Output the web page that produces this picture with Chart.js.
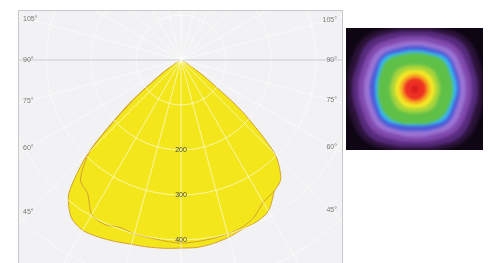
<!DOCTYPE html>
<html>
<head>
<meta charset="utf-8">
<script src="https://cdn.jsdelivr.net/npm/chart.js@4.4.1/dist/chart.umd.min.js"></script>
<style>
    html, body { margin: 0; padding: 0; background: #fff; overflow: hidden; }
    body { width: 489px; height: 263px; position: relative; font-family: "Liberation Sans", Arial, sans-serif; }
    #polarFrame { position: absolute; left: 18px; top: 10px; width: 323px; height: 270px; background: #f2f2f4; border: 1px solid #c9c9cc; overflow: hidden; }
    #polarChart { position: absolute; left: -108px; top: -221px; }
    #mapFrame { position: absolute; left: 346px; top: 28px; width: 137px; height: 122px; background: #0f0614; overflow: hidden; }
    #mapChart { position: absolute; left: -21px; top: -29px; filter: blur(1.8px); }
</style>
</head>
<body>
<div id="polarFrame"><canvas id="polarChart" width="540" height="540"></canvas></div>
<div id="mapFrame"><canvas id="mapChart" width="180" height="180"></canvas></div>
<script>
// gamma angles (deg from nadir), 5 deg steps
const gammaDeg = [0, 5, 10, 15, 20, 25, 30, 35, 40, 45, 50, 55, 60, 65, 70, 75, 80, 85, 90];

// intensity curves (cd/klm), left and right halves of each plane
const planeA_left  = [407, 404, 401, 400, 396, 403, 397, 362, 348, 285, 140, 45, 12, 4, 1, 0, 0, 0, 0];
const planeA_right = [407, 405, 403, 400, 396, 385, 365, 358, 345, 295, 175, 60, 18, 5, 2, 0, 0, 0, 0];
const planeB_left  = [418, 420, 422, 424, 429, 434, 437, 426, 388, 290, 150, 50, 15, 5, 2, 0, 0, 0, 0];
const planeB_right = [418, 418, 414, 408, 400, 397, 388, 360, 330, 250, 120, 40, 12, 4, 1, 0, 0, 0, 0];

const ringTicks = [200, 300, 400];
const angleTicks = [105, 90, 75, 60, 45];

// false-colour map: iso rings, 16 directions clockwise from top
const mapRings = [
    { color: '#d81c1c', r: [4, 4, 4, 4, 4, 4, 4, 4, 4, 4, 4, 4, 4, 4, 4, 4] },
    { color: '#ee3024', r: [11, 11, 11, 11, 11, 11, 11, 11, 11, 11, 11, 11, 11, 11, 11, 11] },
    { color: '#f6a020', r: [15, 15, 15, 15, 15, 15, 15, 15, 15, 15, 15, 15, 15, 15, 15, 15] },
    { color: '#f4e826', r: [19, 20, 20, 20, 20, 20, 20, 20, 19, 20, 20, 20, 20, 20, 20, 20] },
    { color: '#a8d43c', r: [24, 25, 26, 25, 25, 25, 26, 25, 24, 25, 26, 25, 25, 25, 26, 25] },
    { color: '#5fc048', r: [36, 37, 40, 38, 38, 38, 39, 37, 35, 37, 39, 38, 37, 38, 40, 37] },
    { color: '#36b8f2', r: [39, 40, 44, 42, 42, 41, 43, 39, 37, 39, 43, 41, 40, 41, 44, 40] },
    { color: '#4a58d6', r: [43, 44, 47, 45, 45, 45, 47, 44, 42, 44, 47, 45, 45, 45, 47, 44] },
    { color: '#9b74d4', r: [48, 49, 53, 51, 51, 51, 53, 49, 48, 49, 53, 51, 51, 51, 53, 49] },
    { color: '#8048ac', r: [53, 55, 59, 57, 57, 57, 59, 55, 53, 55, 59, 57, 57, 57, 59, 55] },
    { color: '#562a7c', r: [58, 61, 66, 63, 63, 63, 66, 61, 58, 61, 66, 63, 63, 63, 66, 61] },
    { color: '#2a1238', r: [63, 66, 72, 70, 68, 70, 72, 66, 63, 66, 72, 70, 68, 70, 72, 66] }
];

// radar goes clockwise from the nadir: first quarter = left half, last quarter = right half
function toFullCircle(left, right) {
    const out = [];
    for (let i = 0; i < 72; i++) {
        const a = i * 5;
        if (a <= 90) out.push(left[gammaDeg.indexOf(a)]);
        else if (a >= 270) out.push(right[gammaDeg.indexOf(360 - a)]);
        else out.push(0);
    }
    return out;
}

const circleLabels = [];
for (let i = 0; i < 72; i++) circleLabels.push(String(i * 5));

const YELLOW = 'rgb(243,231,28)';
const EDGE = '#d4a032';

const polarLabelsPlugin = {
    id: 'polarLabels',
    afterDraw(chart) {
        const scale = chart.scales.r;
        const ctx = chart.ctx;
        ctx.save();
        ctx.font = '7px "Liberation Sans", Arial, sans-serif';
        ctx.fillStyle = '#4a4a3a';
        ctx.textBaseline = 'middle';
        ctx.textAlign = 'center';
        ringTicks.forEach(v => {
            const p = scale.getPointPositionForValue(0, v);
            ctx.fillText(String(v), p.x, p.y);
        });
        ctx.fillStyle = '#777';
        angleTicks.forEach(g => {
            const sides = [[g / 5, -152, 'left', -158], [72 - g / 5, 150, 'right', 156]];
            sides.forEach(([idx, dxEdge, align, xOff]) => {
                const p = scale.getPointPosition(idx, 100);
                const dx = p.x - scale.xCenter;
                const dy = p.y - scale.yCenter;
                const y = scale.yCenter + dy * (dxEdge / dx);
                ctx.textAlign = align;
                ctx.fillText(g + '°', scale.xCenter + xOff, y);
            });
        });
        ctx.restore();
    }
};

new Chart(document.getElementById('polarChart'), {
    type: 'radar',
    data: {
        labels: circleLabels,
        datasets: [
            {
                data: toFullCircle(planeA_left, planeA_right),
                backgroundColor: YELLOW,
                borderColor: EDGE,
                borderWidth: 1,
                pointRadius: 0,
                tension: 0.25,
                fill: true,
                segment: {
                    borderColor: function(c) {
                        const i = c.p0DataIndex;
                        if (i >= 0 && i < 9) return '#cc5a2c';
                        if (i >= 65) return 'rgba(214,160,50,0.45)';
                        return EDGE;
                    }
                }
            },
            {
                data: toFullCircle(planeB_left, planeB_right),
                backgroundColor: YELLOW,
                borderColor: EDGE,
                borderWidth: 1,
                pointRadius: 0,
                tension: 0.25,
                fill: true
            }
        ]
    },
    options: {
        responsive: false,
        animation: false,
        events: [],
        layout: { padding: 0 },
        plugins: { legend: { display: false }, tooltip: { enabled: false } },
        scales: {
            r: {
                min: 0,
                max: 600,
                startAngle: 180,
                grid: {
                    circular: true,
                    color: 'rgba(255,255,255,0.6)',
                    lineWidth: 1,
                    z: 1
                },
                angleLines: {
                    color: function(c) {
                        if (c.index === 18 || c.index === 54) return 'rgba(150,150,155,0.4)';
                        return c.index % 3 === 0 ? 'rgba(255,255,255,0.6)' : 'rgba(0,0,0,0)';
                    },
                    lineWidth: 1
                },
                ticks: { display: false, stepSize: 100 },
                pointLabels: { display: false }
            }
        }
    },
    plugins: [polarLabelsPlugin]
});

new Chart(document.getElementById('mapChart'), {
    type: 'radar',
    data: {
        labels: mapRings[0].r.map((_, i) => String(i)),
        datasets: mapRings.map(ring => ({
            data: ring.r,
            backgroundColor: ring.color,
            borderWidth: 0,
            pointRadius: 0,
            tension: 0.4,
            fill: true
        }))
    },
    options: {
        responsive: false,
        animation: false,
        events: [],
        layout: { padding: 0 },
        plugins: { legend: { display: false }, tooltip: { enabled: false } },
        scales: {
            r: {
                min: 0,
                max: 90,
                grid: { display: false },
                angleLines: { display: false },
                ticks: { display: false },
                pointLabels: { display: false }
            }
        }
    }
});
</script>
</body>
</html>
